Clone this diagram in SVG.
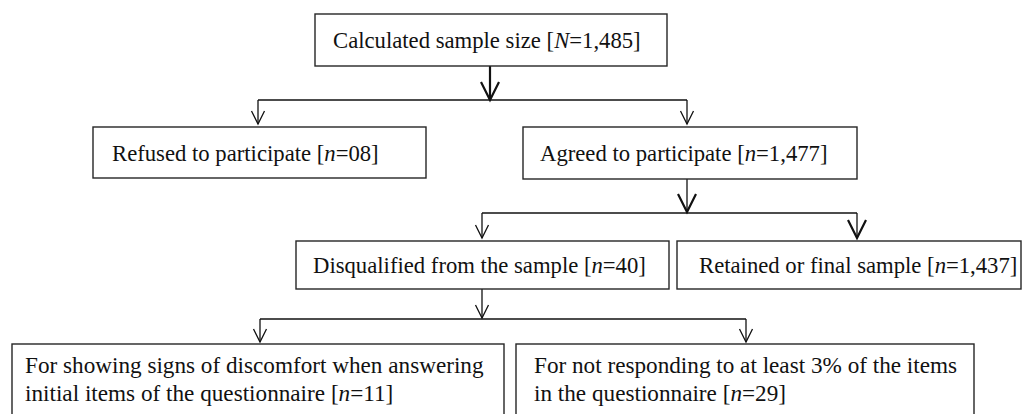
<svg xmlns="http://www.w3.org/2000/svg" width="1022" height="414" viewBox="0 0 1022 414">
<style>
.box{fill:#fff;stroke:#262626;stroke-width:1.4}
.t{font-family:"Liberation Serif","Times New Roman",serif;font-size:22.7px;fill:#111}
.tb{font-size:23.2px}
.c{stroke:#111;stroke-width:1.3;fill:none}
.ck{stroke:#111;stroke-width:2.2;fill:none}
</style>
<defs>
<marker id="v" markerUnits="userSpaceOnUse" markerWidth="20" markerHeight="20" viewBox="-16 -10 20 20" refX="0" refY="0" orient="auto">
<path d="M-13,-6.5 L0,0 L-13,6.5" fill="none" stroke="#111" stroke-width="1.3"/>
</marker>
<marker id="vk" markerUnits="userSpaceOnUse" markerWidth="26" markerHeight="26" viewBox="-22 -13 26 26" refX="0" refY="0" orient="auto">
<path d="M-18,-9 L0,0 L-18,9" fill="none" stroke="#111" stroke-width="2.2"/>
</marker>
</defs>
<rect width="1022" height="414" fill="#fff"/>
<g id="connectors">
<line class="ck" x1="490" y1="66" x2="490" y2="100" marker-end="url(#vk)"/>
<line class="c" x1="258" y1="100" x2="687" y2="100"/>
<line class="c" x1="258" y1="100" x2="258" y2="124" marker-end="url(#v)"/>
<line class="c" x1="687" y1="100" x2="687" y2="124" marker-end="url(#v)"/>
<line class="c" x1="687" y1="179" x2="687" y2="212" marker-end="url(#vk)"/>
<line class="c" x1="482" y1="213" x2="857" y2="213"/>
<line class="c" x1="482" y1="213" x2="482" y2="238" marker-end="url(#v)"/>
<line class="c" x1="857" y1="213" x2="857" y2="238" marker-end="url(#vk)"/>
<line class="c" x1="482" y1="289" x2="482" y2="318" marker-end="url(#v)"/>
<line class="c" x1="260" y1="319" x2="746" y2="319"/>
<line class="c" x1="260" y1="319" x2="260" y2="342" marker-end="url(#v)"/>
<line class="c" x1="746" y1="319" x2="746" y2="342" marker-end="url(#v)"/>
</g>
<g id="n-calculated">
<rect class="box" x="315" y="14" width="352" height="52"/>
<text class="t" x="333" y="48">Calculated sample size [<tspan font-style="italic">N</tspan>=1,485]</text>
</g>
<g id="n-refused">
<rect class="box" x="93" y="127" width="333" height="51"/>
<text class="t" x="112" y="161">Refused to participate [<tspan font-style="italic">n</tspan>=08]</text>
</g>
<g id="n-agreed">
<rect class="box" x="523" y="127" width="334" height="52"/>
<text class="t" x="540" y="161">Agreed to participate [<tspan font-style="italic">n</tspan>=1,477]</text>
</g>
<g id="n-disqualified">
<rect class="box" x="296" y="241" width="373" height="48"/>
<text class="t" x="313" y="273">Disqualified from the sample [<tspan font-style="italic">n</tspan>=40]</text>
</g>
<g id="n-retained">
<rect class="box" x="677" y="241" width="344" height="48"/>
<text class="t" x="699" y="273">Retained or final sample [<tspan font-style="italic">n</tspan>=1,437]</text>
</g>
<g id="n-discomfort">
<rect class="box" x="12" y="344" width="492" height="80"/>
<text class="t tb" x="25" y="373">For showing signs of discomfort when answering</text>
<text class="t tb" x="25" y="401">initial items of the questionnaire [<tspan font-style="italic">n</tspan>=11]</text>
</g>
<g id="n-notresponding">
<rect class="box" x="516" y="344" width="458" height="80"/>
<text class="t tb" x="534" y="373">For not responding to at least 3% of the items</text>
<text class="t tb" x="534" y="401">in the questionnaire [<tspan font-style="italic">n</tspan>=29]</text>
</g>
</svg>
